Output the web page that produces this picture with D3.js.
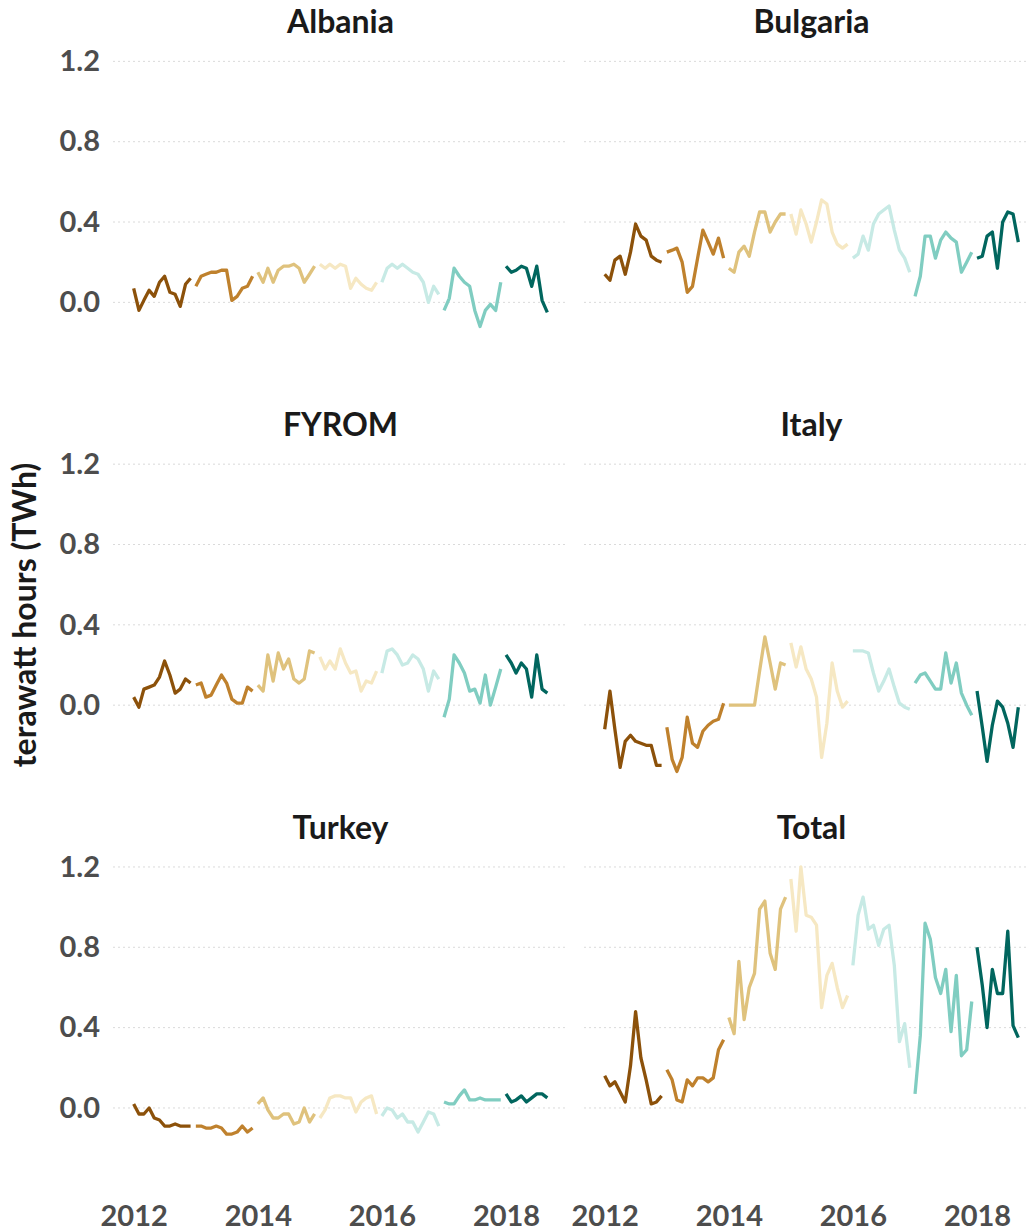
<!DOCTYPE html>
<html><head><meta charset="utf-8">
<script src="https://cdn.jsdelivr.net/npm/d3@7"></script>
<style>body{margin:0;background:#fff}svg{display:block}</style>
</head><body><svg id="c" width="1027" height="1231"></svg>
<script>
// Monthly values, Jan 2012 .. Sep 2018 (TWh)
const countries = ["Albania","Bulgaria","FYROM","Italy","Turkey","Total"];
const years = [2012,2013,2014,2015,2016,2017,2018];
const yearColors = ["#8c510a","#bf812d","#dfc27d","#f6e8c3","#c7eae5","#80cdc1","#01665e"];
const yTicks = [0.0,0.4,0.8,1.2];
const xTicks = [2012,2014,2016,2018];

const albania = [
 0.07,-0.04,0.01,0.06,0.03,0.10,0.13,0.05,0.04,-0.02,0.09,0.12,
 0.08,0.13,0.14,0.15,0.15,0.16,0.16,0.01,0.03,0.07,0.08,0.13,
 0.15,0.10,0.17,0.10,0.16,0.18,0.18,0.19,0.17,0.10,0.14,0.18,
 0.19,0.17,0.19,0.17,0.19,0.18,0.07,0.12,0.09,0.07,0.06,0.10,
 0.10,0.17,0.19,0.17,0.19,0.17,0.15,0.14,0.10,0.00,0.08,0.04,
 -0.04,0.02,0.17,0.13,0.10,0.08,-0.04,-0.12,-0.04,-0.01,-0.04,0.10,
 0.18,0.15,0.16,0.18,0.17,0.08,0.18,0.01,-0.05];
const bulgaria = [
 0.14,0.11,0.21,0.23,0.14,0.25,0.39,0.33,0.31,0.23,0.21,0.20,
 0.25,0.26,0.27,0.20,0.05,0.08,0.22,0.36,0.30,0.24,0.32,0.22,
 0.17,0.15,0.25,0.28,0.23,0.35,0.45,0.45,0.35,0.40,0.44,0.44,
 0.44,0.34,0.46,0.39,0.30,0.40,0.51,0.49,0.35,0.29,0.27,0.29,
 0.22,0.24,0.33,0.26,0.39,0.44,0.46,0.48,0.36,0.26,0.22,0.15,
 0.03,0.13,0.33,0.33,0.22,0.31,0.35,0.32,0.30,0.15,0.20,0.25,
 0.22,0.23,0.33,0.35,0.17,0.40,0.45,0.44,0.30];
const fyrom = [
 0.04,-0.01,0.08,0.09,0.10,0.14,0.22,0.15,0.06,0.08,0.13,0.11,
 0.10,0.11,0.04,0.05,0.10,0.15,0.11,0.03,0.01,0.01,0.09,0.07,
 0.10,0.07,0.25,0.12,0.26,0.18,0.23,0.13,0.11,0.13,0.27,0.26,
 0.24,0.18,0.22,0.18,0.28,0.21,0.16,0.17,0.07,0.12,0.11,0.17,
 0.16,0.27,0.28,0.25,0.20,0.21,0.25,0.23,0.18,0.07,0.17,0.13,
 -0.06,0.03,0.25,0.21,0.16,0.07,0.08,0.01,0.15,0.00,0.09,0.18,
 0.25,0.21,0.16,0.21,0.18,0.04,0.25,0.08,0.06];
const italy = [
 -0.12,0.07,-0.12,-0.31,-0.18,-0.15,-0.18,-0.19,-0.20,-0.20,-0.30,-0.30,
 -0.11,-0.27,-0.33,-0.26,-0.06,-0.19,-0.21,-0.13,-0.10,-0.08,-0.07,0.01,
 0.00,0.00,0.00,0.00,0.00,0.00,0.17,0.34,0.21,0.08,0.21,0.20,
 0.31,0.19,0.29,0.18,0.13,0.04,-0.26,-0.09,0.21,0.07,-0.01,0.02,
 0.27,0.27,0.27,0.26,0.16,0.07,0.12,0.18,0.09,0.01,-0.01,-0.02,
 0.11,0.15,0.16,0.12,0.08,0.08,0.26,0.11,0.21,0.06,0.00,-0.05,
 0.07,-0.11,-0.28,-0.10,0.02,-0.01,-0.09,-0.21,-0.01];
const turkey = [
 0.02,-0.03,-0.03,0.00,-0.05,-0.06,-0.09,-0.09,-0.08,-0.09,-0.09,-0.09,
 -0.09,-0.09,-0.10,-0.10,-0.09,-0.10,-0.13,-0.13,-0.12,-0.09,-0.12,-0.10,
 0.02,0.05,-0.01,-0.05,-0.05,-0.03,-0.03,-0.08,-0.07,0.00,-0.07,-0.03,
 -0.05,-0.01,0.05,0.06,0.06,0.05,0.05,-0.02,0.03,0.05,0.06,-0.03,
 -0.04,0.00,-0.01,-0.05,-0.03,-0.07,-0.07,-0.12,-0.07,-0.02,-0.03,-0.09,
 0.03,0.02,0.02,0.06,0.09,0.04,0.04,0.05,0.04,0.04,0.04,0.04,
 0.07,0.03,0.04,0.06,0.03,0.05,0.07,0.07,0.05];
const total = [
 0.16,0.11,0.13,0.08,0.03,0.21,0.48,0.25,0.14,0.02,0.03,0.06,
 0.19,0.14,0.04,0.03,0.14,0.11,0.15,0.15,0.13,0.15,0.29,0.34,
 0.45,0.37,0.73,0.44,0.60,0.67,0.99,1.03,0.77,0.69,0.99,1.05,
 1.14,0.88,1.20,0.96,0.95,0.91,0.50,0.66,0.72,0.60,0.50,0.56,
 0.71,0.96,1.05,0.89,0.91,0.81,0.89,0.91,0.71,0.33,0.42,0.20,
 0.07,0.36,0.92,0.84,0.65,0.57,0.69,0.38,0.66,0.26,0.29,0.53,
 0.80,0.61,0.40,0.69,0.57,0.57,0.88,0.41,0.35];
const seriesByCountry = [albania,bulgaria,fyrom,italy,turkey,total];

const svg = d3.select("#c");
const FONT = "Lato, 'Open Sans', sans-serif";

const panelW = 455, panelH = 338;
const colX = [113, 584];
const rowY = [46, 448.8, 851.6];

const d0 = new Date(2012,0,1), d1 = new Date(2018,8,1);
const pad = (d1 - d0)*0.05;
const x = d3.scaleTime().domain([new Date(+d0 - pad), new Date(+d1 + pad)]).range([0, panelW]);
const y = d3.scaleLinear().domain([-0.4065, 1.2765]).range([panelH, 0]);
const color = d3.scaleOrdinal().domain(years).range(yearColors);

const line = d3.line().x(d => x(d.date)).y(d => y(d.value));

countries.forEach((name, i) => {
  const col = i % 2, row = Math.floor(i / 2);
  const g = svg.append("g").attr("transform", `translate(${colX[col]},${rowY[row]})`);
  g.selectAll("line.grid").data(yTicks).enter().append("line")
    .attr("x1", 0).attr("x2", panelW)
    .attr("y1", d => y(d)).attr("y2", d => y(d))
    .attr("stroke", "#dadada").attr("stroke-width", 1).attr("stroke-dasharray", "2,3");
  const vals = seriesByCountry[i];
  const pts = vals.map((v, k) => ({date: new Date(2012, k, 1), year: 2012 + Math.floor(k / 12), value: v}));
  const byYear = d3.groups(pts, d => d.year);
  g.selectAll("path.yr").data(byYear).enter().append("path")
    .attr("d", d => line(d[1]))
    .attr("fill", "none")
    .attr("stroke", d => color(d[0]))
    .attr("stroke-width", 3.3)
    .attr("stroke-linejoin", "round");
  g.append("text").attr("x", panelW/2).attr("y", -13)
    .attr("text-anchor", "middle").attr("font-family", FONT).attr("font-weight", 700)
    .attr("font-size", 32).attr("fill", "#1a1a1a").text(name);
  if (col === 0) {
    const ay = g.append("g").call(d3.axisLeft(y).tickValues(yTicks).tickFormat(d3.format(".1f")).tickSize(0).tickPadding(13));
    ay.select(".domain").remove();
    ay.selectAll("text").attr("font-family", FONT).attr("font-weight", 700)
      .attr("font-size", 29).attr("fill", "#4d4d4d");
  }
  if (row === 2) {
    const ax = g.append("g").attr("transform", `translate(0,${panelH})`)
      .call(d3.axisBottom(x).tickValues(xTicks.map(t => new Date(t,0,1))).tickFormat(d3.timeFormat("%Y")).tickSize(0).tickPadding(16));
    ax.select(".domain").remove();
    ax.selectAll("text").attr("font-family", FONT).attr("font-weight", 700)
      .attr("font-size", 29).attr("fill", "#4d4d4d");
  }
});

svg.append("text")
  .attr("transform", "translate(36,615) rotate(-90)")
  .attr("text-anchor", "middle").attr("font-family", FONT).attr("font-weight", 700)
  .attr("font-size", 32).attr("fill", "#1a1a1a").text("terawatt hours (TWh)");
</script></body></html>
